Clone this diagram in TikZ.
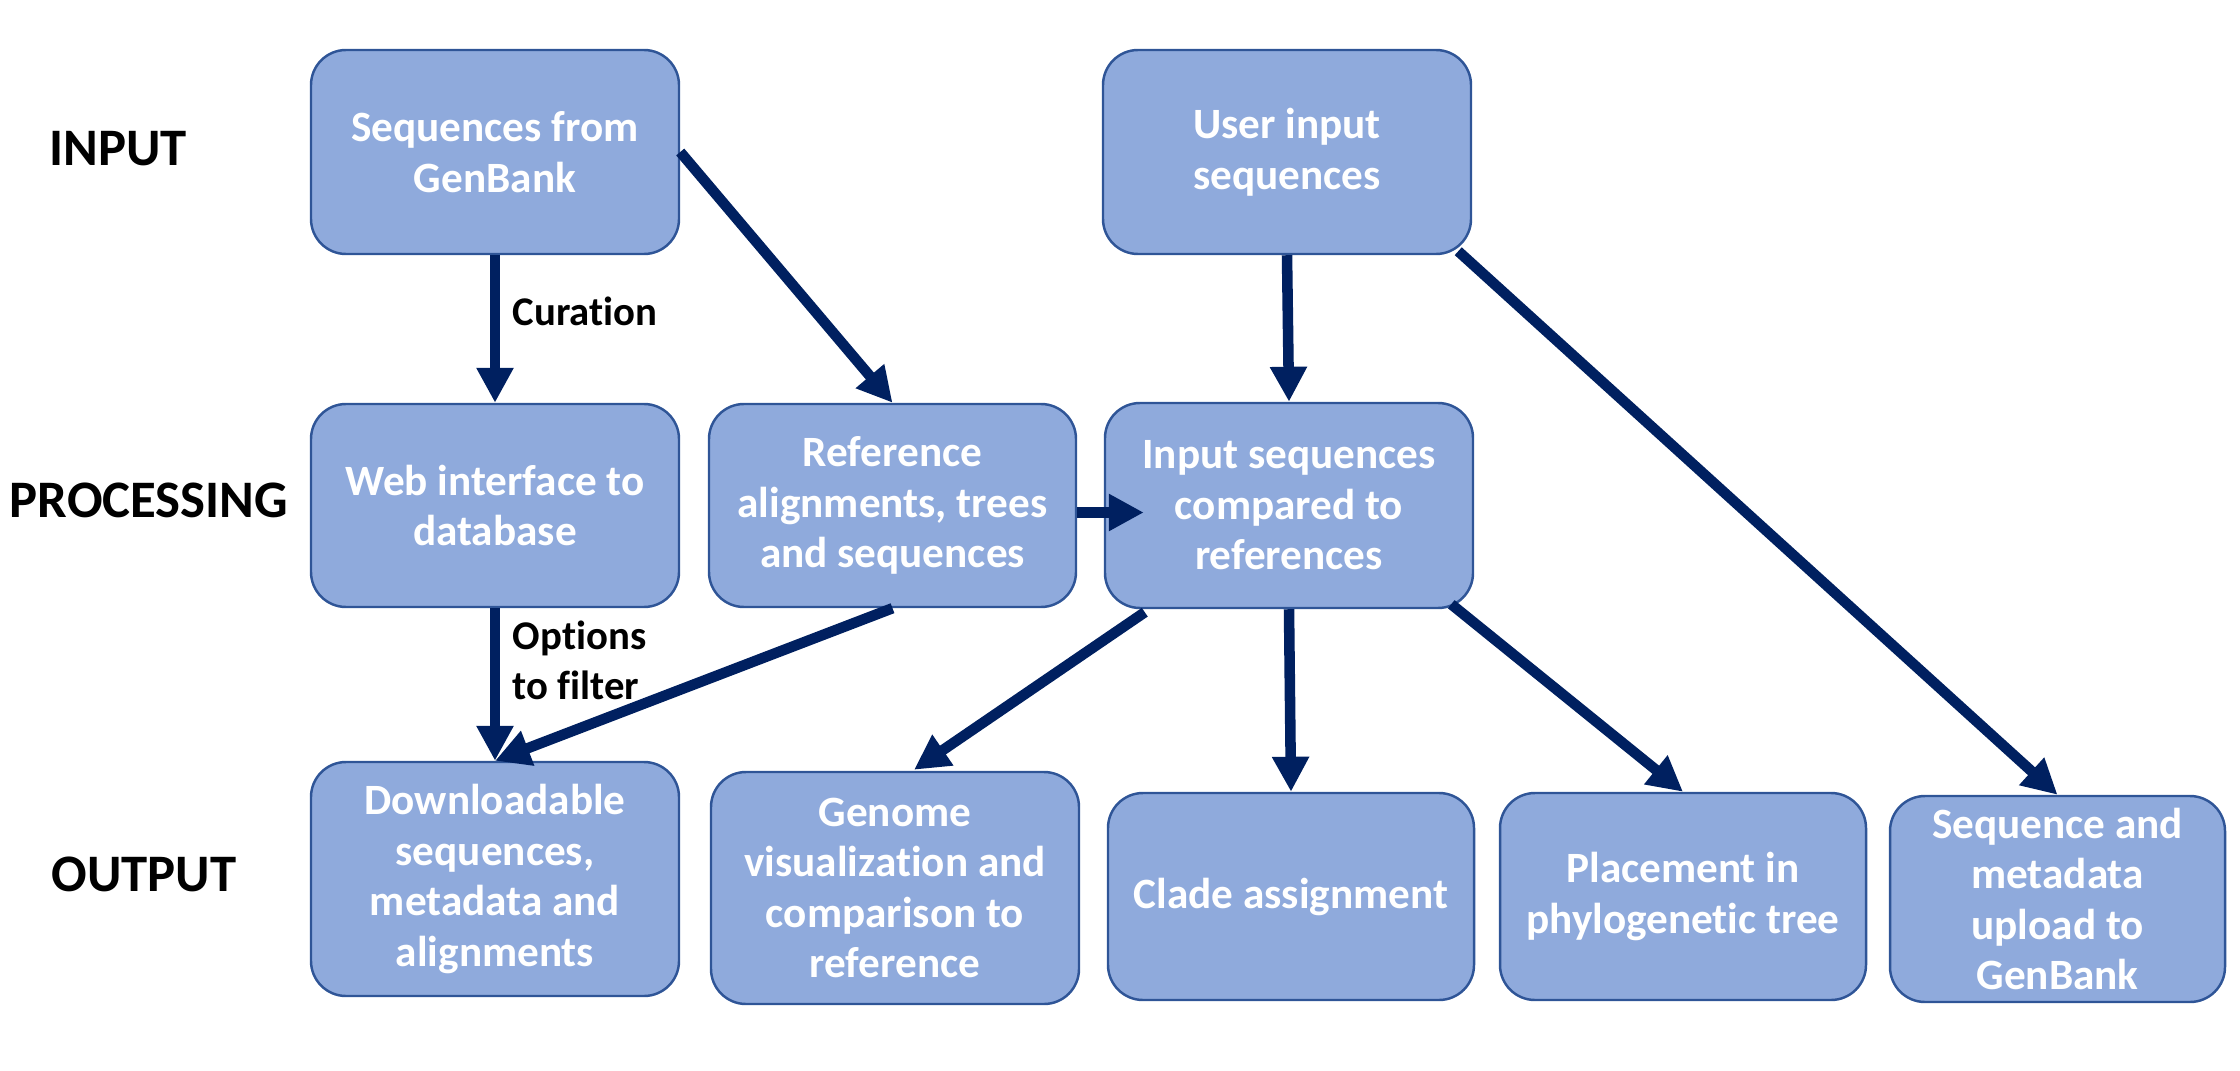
\documentclass[tikz,border=0pt]{standalone}
\definecolor{boxfill}{RGB}{143, 170, 220}
\definecolor{boxline}{RGB}{47, 85, 151}
\definecolor{navy1}{RGB}{0, 32, 96}
\usepackage{fontspec}
\setmainfont{Carlito}[Ligatures=NoCommon]
\usepackage{tikz}
\usetikzlibrary{arrows.meta, positioning, calc}

\tikzset{
  stage/.style={draw=boxline, line width=0.7pt, fill=boxfill, rounded corners=0.35cm, text=white, font=\fontsize{12.3}{14.4}\selectfont\bfseries, align=center, inner sep=2pt},
  flow/.style={-{Triangle[length=0.35cm, width=0.35cm]}, line width=3pt, navy1},
  rowlabel/.style={font=\fontsize{15}{18}\selectfont\bfseries, text=black},
  edgelabel/.style={font=\fontsize{11.6}{14.2}\selectfont\bfseries, text=black, align=left, anchor=west, inner sep=0pt}
}

\begin{document}
\begin{tikzpicture}
  \useasboundingbox (0, 0) rectangle (22.4, -10.71);

  % Row labels
  \node[rowlabel] (lin) at (1.18, -1.49) {INPUT};
  \node[rowlabel] (lproc) at (1.49, -5.0) {PROCESSING};
  \node[rowlabel] (lout) at (1.44, -8.74) {OUTPUT};

  % Input
  \node[stage, minimum width=3.68cm, minimum height=2.04cm] (genbank) at (4.95, -1.52) {Sequences from\\GenBank};
  \node[stage, minimum width=3.68cm, minimum height=2.04cm] (userin) at (12.87, -1.52) {User input\\sequences};

  % Processing
  \node[stage, minimum width=3.68cm, minimum height=2.03cm] (webif) at (4.95, -5.055) {Web interface to\\database};
  \node[stage, minimum width=3.67cm, minimum height=2.03cm] (refaln) at (8.925, -5.055) {Reference\\alignments, trees\\and sequences};
  \node[stage, minimum width=3.68cm, minimum height=2.05cm] (compare) at (12.89, -5.055) {Input sequences\\compared to\\references};

  % Output
  \node[stage, minimum width=3.68cm, minimum height=2.34cm] (download) at (4.95, -8.79) {Downloadable\\sequences,\\metadata and\\alignments};
  \node[stage, minimum width=3.68cm, minimum height=2.32cm] (genomevis) at (8.95, -8.88) {Genome\\visualization and\\comparison to\\reference};
  \node[stage, minimum width=3.66cm, minimum height=2.07cm] (clade) at (12.91, -8.965) {Clade assignment};
  \node[stage, minimum width=3.66cm, minimum height=2.07cm] (placement) at (16.83, -8.965) {Placement in\\phylogenetic tree};
  \node[stage, minimum width=3.35cm, minimum height=2.06cm] (upload) at (20.575, -8.99) {Sequence and\\metadata\\upload to\\GenBank};

  % Arrows
  \draw[flow] (genbank.south) -- (webif.north);
  \draw[flow] (genbank.east) -- (refaln.north);
  \draw[flow] (userin.south) -- (compare.north);
  \draw[flow] ($(userin.south east)+(-0.14,0.04)$) -- (upload.north);
  \draw[flow] (webif.south) -- (download.north);
  \draw[flow] (refaln.south) -- (download.north);
  \draw[flow] ($(refaln.east)+(0,-0.07)$) -- ($(compare.west)+(0.4,-0.07)$);
  \draw[flow] ($(compare.south west)+(0.41,-0.03)$) -- ($(genomevis.north)+(0.19,0.01)$);
  \draw[flow] (compare.south) -- (clade.north);
  \draw[flow] ($(compare.south east)+(-0.23,0.05)$) -- (placement.north);

  % Edge labels
  \node[edgelabel] (lcur) at (5.12, -3.11) {Curation};
  \node[edgelabel] (lopt) at (5.12, -6.6) {Options\\to filter};
\end{tikzpicture}
\end{document}
